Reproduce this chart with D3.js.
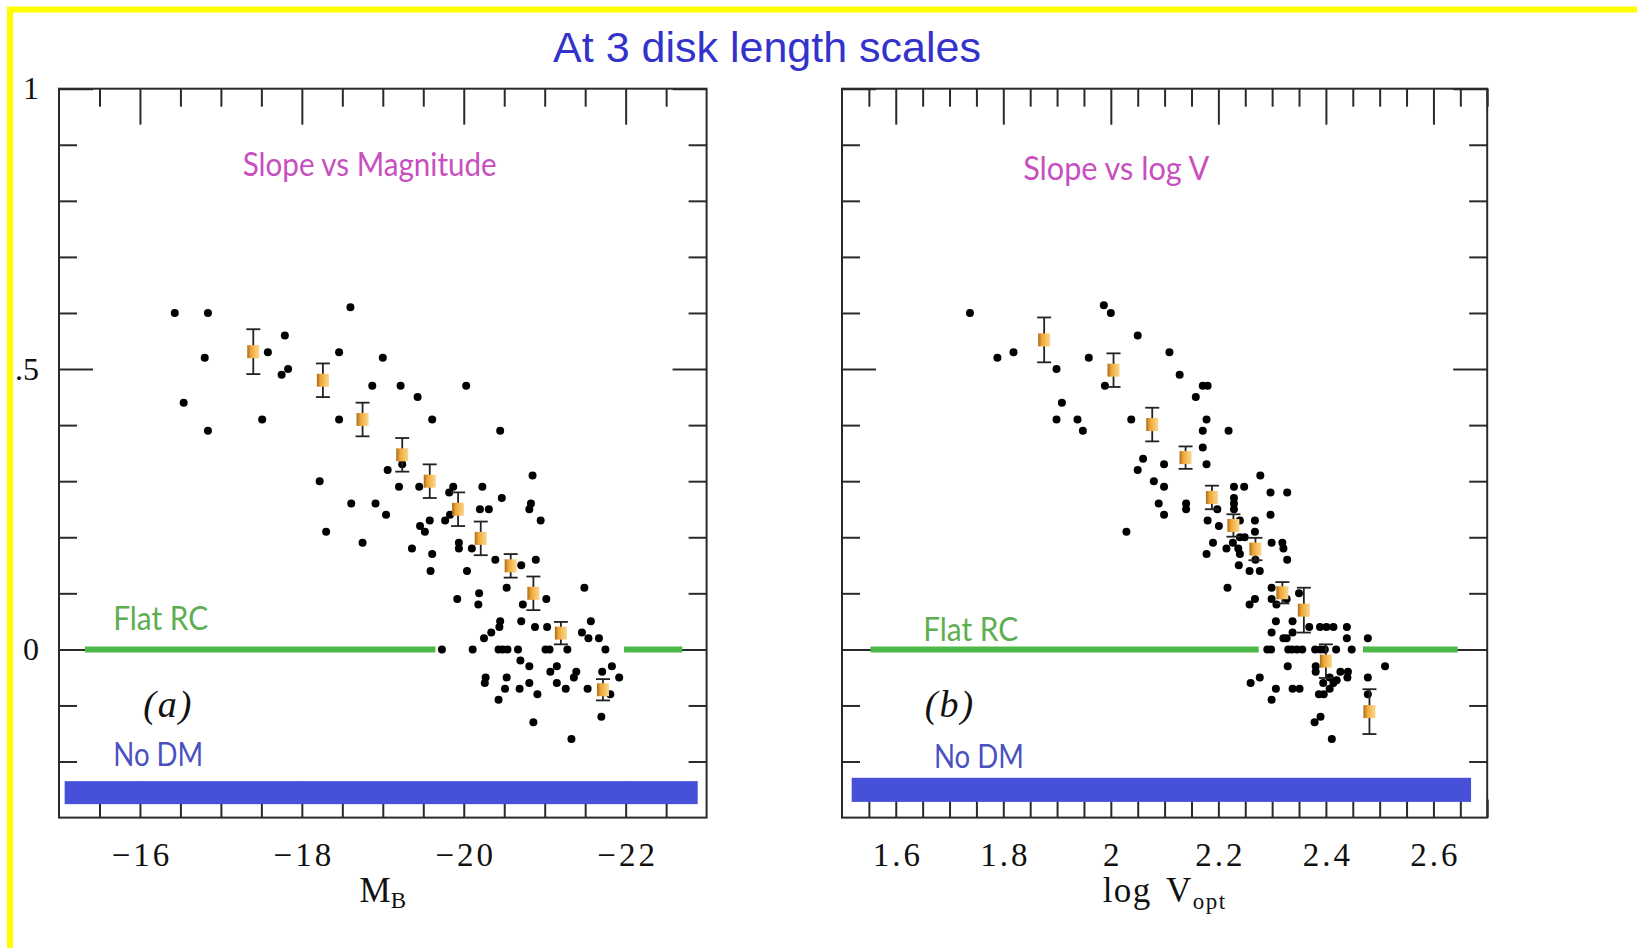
<!DOCTYPE html>
<html>
<head>
<meta charset="utf-8">
<script src="https://cdn.jsdelivr.net/npm/d3@7"></script>
<style>
body { margin: 0; background: #fff; }
</style>
</head>
<body>
<div id="chart"></div>
<script>
'use strict';

// panel (a): slope vs absolute magnitude
let ptsMB = [-16.43, -16.84, -18.60, -16.80, -17.79, -17.58, -17.83, -17.75, -18.46, -19.00,
	-18.87, -19.22, -19.43, -20.03, -16.54, -16.84, -17.51, -18.46, -19.61, -20.45,
	-19.24, -19.06, -18.22, -19.20, -19.45, -19.87, -19.82, -20.23, -20.85, -20.47,
	-20.20, -20.31, -20.83, -20.81, -20.95, -18.61, -18.91, -19.04, -19.58, -19.77,
	-19.83, -19.46, -19.52, -18.30, -18.75, -19.36, -19.94, -19.94, -20.10, -19.61,
	-19.59, -20.04, -20.39, -20.71, -20.89, -19.92, -20.19, -20.18, -20.53, -20.73,
	-21.02, -21.49, -20.45, -20.44, -20.34, -20.25, -20.71, -20.88, -21.03, -21.57,
	-21.46, -21.54, -21.67, -19.73, -20.11, -20.43, -20.48, -20.54, -20.67, -21.01,
	-21.06, -21.28, -21.75, -20.70, -20.81, -21.07, -21.15, -21.39, -21.36, -21.83,
	-21.92, -21.71, -20.27, -20.26, -20.53, -20.51, -20.69, -20.81, -20.91, -21.15,
	-21.26, -21.53, -21.81, -20.43, -20.86, -21.70, -21.33];
let ptsSlopeA = [0.60, 0.60, 0.61, 0.52, 0.56, 0.53, 0.50, 0.49, 0.53, 0.52,
	0.47, 0.47, 0.45, 0.47, 0.44, 0.39, 0.41, 0.41, 0.41, 0.39,
	0.33, 0.32, 0.30, 0.29, 0.29, 0.29, 0.28, 0.29, 0.31, 0.27,
	0.25, 0.25, 0.26, 0.25, 0.23, 0.26, 0.26, 0.24, 0.23, 0.23,
	0.24, 0.22, 0.21, 0.21, 0.19, 0.18, 0.19, 0.18, 0.18, 0.17,
	0.14, 0.14, 0.16, 0.15, 0.16, 0.09, 0.10, 0.08, 0.11, 0.08,
	0.09, 0.11, 0.05, 0.04, 0.03, 0.02, 0.05, 0.04, 0.04, 0.05,
	0.03, 0.02, 0.02, 0, 0, 0, 0, 0, 0, 0,
	0, 0, 0, -0.02, -0.03, -0.04, -0.03, -0.04, -0.05, -0.03,
	-0.05, -0.04, -0.05, -0.06, -0.05, -0.07, -0.07, -0.06, -0.08, -0.06,
	-0.07, -0.07, -0.08, -0.09, -0.13, -0.12, -0.16];
let binMB = [-17.40, -18.26, -18.75, -19.24, -19.58, -19.93, -20.21, -20.58, -20.86, -21.20, -21.72];
let binSlopeA = [0.531, 0.480, 0.410, 0.347, 0.300, 0.250, 0.198, 0.149, 0.100, 0.029, -0.072];
let binErrA = [0.040, 0.030, 0.030, 0.030, 0.030, 0.030, 0.030, 0.021, 0.030, 0.020, 0.019];

// panel (b): slope vs log V_opt
let ptsLogV = [1.738, 1.987, 2.000, 2.050, 1.789, 1.819, 1.899, 1.959, 2.109, 1.989,
	2.128, 2.171, 2.180, 2.158, 1.909, 1.899, 1.938, 1.948, 2.038, 2.178,
	2.171, 2.219, 2.171, 2.178, 2.060, 2.099, 2.050, 2.080, 2.099, 2.089,
	2.099, 2.140, 2.140, 2.029, 2.278, 2.229, 2.248, 2.229, 2.229, 2.229,
	2.297, 2.328, 2.297, 2.198, 2.180, 2.201, 2.240, 2.268, 2.268, 2.190,
	2.240, 2.249, 2.227, 2.258, 2.277, 2.238, 2.269, 2.328, 2.299, 2.319,
	2.321, 2.215, 2.237, 2.240, 2.178, 2.217, 2.268, 2.258, 2.299, 2.299,
	2.308, 2.327, 2.350, 2.307, 2.338, 2.299, 2.338, 2.321, 2.327, 2.369,
	2.389, 2.401, 2.414, 2.439, 2.439, 2.478, 2.291, 2.298, 2.330, 2.337,
	2.346, 2.356, 2.380, 2.390, 2.398, 2.419, 2.448, 2.329, 2.381, 2.381,
	2.427, 2.441, 2.440, 2.510, 2.478, 2.478, 2.277, 2.260, 2.307, 2.338,
	2.351, 2.299, 2.395, 2.407, 2.414, 2.407, 2.420, 2.387, 2.396, 2.390,
	2.379, 2.411];
let ptsSlopeB = [0.60, 0.614, 0.60, 0.56, 0.52, 0.53, 0.50, 0.52, 0.53, 0.47,
	0.49, 0.47, 0.47, 0.45, 0.44, 0.41, 0.41, 0.39, 0.41, 0.41,
	0.39, 0.39, 0.36, 0.33, 0.34, 0.33, 0.32, 0.30, 0.29, 0.26,
	0.24, 0.26, 0.25, 0.21, 0.31, 0.29, 0.29, 0.27, 0.26, 0.25,
	0.28, 0.28, 0.24, 0.25, 0.23, 0.22, 0.23, 0.23, 0.21, 0.19,
	0.20, 0.20, 0.19, 0.14, 0.14, 0.15, 0.16, 0.16, 0.19, 0.19,
	0.18, 0.18, 0.18, 0.17, 0.17, 0.11, 0.09, 0.08, 0.11, 0.09,
	0.08, 0.09, 0.10, 0.05, 0.05, 0.03, 0.03, 0.02, 0.02, 0.04,
	0.04, 0.04, 0.04, 0.04, 0.02, 0.02, 0, 0, 0, 0,
	0, 0, 0, 0, 0, 0, 0, -0.03, -0.03, -0.04,
	-0.04, -0.04, -0.05, -0.03, -0.05, -0.08, -0.05, -0.06, -0.07, -0.07,
	-0.07, -0.09, -0.06, -0.05, -0.06, -0.07, -0.055, -0.08, -0.08, -0.12,
	-0.13, -0.16];
let binLogV = [1.876, 2.005, 2.077, 2.139, 2.188, 2.228, 2.269, 2.319, 2.359, 2.400, 2.481];
let binSlopeB = [0.552, 0.498, 0.401, 0.342, 0.271, 0.221, 0.179, 0.101, 0.070, -0.021, -0.111];
let binErrB = [0.040, 0.030, 0.030, 0.020, 0.021, 0.020, 0.020, 0.019, 0.040, 0.030, 0.040];

// reference levels: flat rotation curve (slope 0) and no dark matter band
let flatA = [[-15.32, -19.65], [-21.98, -22.70]];
let flatB = [[1.553, 2.275], [2.469, 2.645]];
let noDmA = [-15.07, -22.89, -0.235, -0.276];
let noDmB = [1.518, 2.670, -0.229, -0.272];

// axis ticks
let majorA = [-16, -18, -20, -22];
let majorB = [1.6, 1.8, 2, 2.2, 2.4, 2.6];
let yMajor = [1, 0.5, 0];
let yMinor = [0.9, 0.8, 0.7, 0.6, 0.4, 0.3, 0.2, 0.1, -0.1, -0.2];

let svg = d3.select('#chart').append('svg')
	.attr('width', 1637)
	.attr('height', 948);

let defs = svg.append('defs');
let grad = defs.append('linearGradient').attr('id', 'binfill');
grad.append('stop').attr('offset', '0%').attr('stop-color', '#a86a18');
grad.append('stop').attr('offset', '30%').attr('stop-color', '#eea535');
grad.append('stop').attr('offset', '70%').attr('stop-color', '#f6c468');
grad.append('stop').attr('offset', '100%').attr('stop-color', '#f9d690');

// slide frame (yellow, cropped at right/bottom)
svg.append('rect')
	.attr('x', 10).attr('y', 9.5)
	.attr('width', 1700).attr('height', 1000)
	.attr('fill', 'none')
	.attr('stroke', '#ffff00')
	.attr('stroke-width', 6);

svg.append('text')
	.attr('x', 767).attr('y', 62)
	.attr('text-anchor', 'middle')
	.attr('font-family', 'Liberation Sans, Arial, sans-serif')
	.attr('font-size', 43)
	.attr('fill', '#3333cc')
	.text('At 3 disk length scales');

let yTop = 88.7, yBot = 817.6;

function tickSet(g, axisFn, scale, vals, size, transform) {
	g.append('g')
		.attr('transform', transform)
		.call(axisFn(scale).tickValues(vals).tickSize(size).tickFormat(''))
		.call(s => s.select('.domain').remove())
		.selectAll('line')
		.attr('stroke', '#2a2a2a')
		.attr('stroke-width', 2);
}

function drawPanel(p) {
	let x = d3.scaleLinear().domain(p.domain).range([p.left, p.right]);
	let y = d3.scaleLinear().domain([-0.3, 1]).range([yBot, yTop]);
	let g = svg.append('g');

	let minors = d3.range(p.domain[0], p.domain[1], p.step)
		.filter(v => !p.majors.some(m => Math.abs(m - v) < 1e-6) && Math.abs(v - p.domain[0]) > 1e-6);

	tickSet(g, d3.axisBottom, x, minors, 18, `translate(0,${yTop})`);
	tickSet(g, d3.axisBottom, x, p.majors, 36, `translate(0,${yTop})`);
	tickSet(g, d3.axisTop, x, minors, 18, `translate(0,${yBot})`);
	tickSet(g, d3.axisTop, x, p.majors, 36, `translate(0,${yBot})`);
	tickSet(g, d3.axisRight, y, yMinor, 18, `translate(${p.left},0)`);
	tickSet(g, d3.axisRight, y, yMajor, 34, `translate(${p.left},0)`);
	tickSet(g, d3.axisLeft, y, yMinor, 18, `translate(${p.right},0)`);
	tickSet(g, d3.axisLeft, y, yMajor, 34, `translate(${p.right},0)`);

	g.append('rect')
		.attr('x', p.left).attr('y', yTop)
		.attr('width', p.right - p.left).attr('height', yBot - yTop)
		.attr('fill', 'none')
		.attr('stroke', '#2a2a2a')
		.attr('stroke-width', 2);

	// x tick labels
	let xl = g.append('g')
		.attr('transform', `translate(0,${yBot})`)
		.call(d3.axisBottom(x).tickValues(p.majors).tickSize(0).tickFormat(d3.format('~g')))
		.call(s => s.select('.domain').remove());
	xl.attr('font-family', 'Liberation Serif, serif').attr('font-size', 33);
	xl.selectAll('text')
		.attr('y', 48).attr('dy', null).attr('dx', 1.5)
		.attr('fill', '#111')
		.style('letter-spacing', '3px');

	if (p.yLabels) {
		let yl = g.append('g')
			.attr('transform', `translate(${p.left},0)`)
			.call(d3.axisLeft(y).tickValues(yMajor).tickSize(0).tickPadding(20)
				.tickFormat(d => d === 0.5 ? '.5' : String(d)))
			.call(s => s.select('.domain').remove());
		yl.attr('font-family', 'Liberation Serif, serif').attr('font-size', 32);
		yl.selectAll('text').attr('fill', '#111');
	}

	// flat RC line
	g.selectAll('line.flat')
		.data(p.flat)
		.join('line')
		.classed('flat', true)
		.attr('x1', d => x(d[0])).attr('x2', d => x(d[1]))
		.attr('y1', y(0)).attr('y2', y(0))
		.attr('stroke', '#4db848')
		.attr('stroke-width', 6);

	// no DM band
	g.append('rect')
		.attr('x', Math.min(x(p.noDm[0]), x(p.noDm[1])))
		.attr('y', y(p.noDm[2]))
		.attr('width', Math.abs(x(p.noDm[1]) - x(p.noDm[0])))
		.attr('height', y(p.noDm[3]) - y(p.noDm[2]))
		.attr('fill', '#4650d8');

	// galaxies
	g.selectAll('circle.gal')
		.data(d3.zip(p.px, p.py))
		.join('circle')
		.classed('gal', true)
		.attr('cx', d => x(d[0]))
		.attr('cy', d => y(d[1]))
		.attr('r', 4)
		.attr('fill', '#000');

	// binned means with error bars
	let bins = d3.zip(p.bx, p.by, p.be);
	let eb = g.selectAll('g.bin')
		.data(bins)
		.join('g')
		.classed('bin', true)
		.attr('stroke', '#222')
		.attr('stroke-width', 1.8);
	eb.append('line')
		.attr('x1', d => x(d[0])).attr('x2', d => x(d[0]))
		.attr('y1', d => y(d[1] + d[2])).attr('y2', d => y(d[1] - d[2]));
	eb.append('line')
		.attr('x1', d => x(d[0]) - 7).attr('x2', d => x(d[0]) + 7)
		.attr('y1', d => y(d[1] + d[2])).attr('y2', d => y(d[1] + d[2]));
	eb.append('line')
		.attr('x1', d => x(d[0]) - 7).attr('x2', d => x(d[0]) + 7)
		.attr('y1', d => y(d[1] - d[2])).attr('y2', d => y(d[1] - d[2]));
	g.selectAll('rect.binbox')
		.data(bins)
		.join('rect')
		.classed('binbox', true)
		.attr('x', d => x(d[0]) - 6)
		.attr('y', d => y(d[1]) - 6.5)
		.attr('width', 12).attr('height', 13)
		.attr('fill', 'url(#binfill)');

	// annotations
	let lab = (t, at, color, len) => g.append('text')
		.attr('x', x(at[0])).attr('y', y(at[1]))
		.attr('font-family', 'Lato, Open Sans, sans-serif')
		.attr('font-size', 32)
		.attr('fill', color)
		.attr('textLength', len)
		.attr('lengthAdjust', 'spacingAndGlyphs')
		.text(t);
	lab(p.title, p.titleAt, '#c84fc0', p.titleLen);
	lab('Flat RC', p.flatAt, '#5dae50', 95);
	lab('No DM', p.noDmAt, '#4a52c0', 90);

	g.append('text')
		.attr('x', x(p.tagAt[0])).attr('y', y(p.tagAt[1]))
		.attr('font-family', 'Liberation Serif, serif')
		.attr('font-style', 'italic')
		.attr('font-size', 38)
		.style('letter-spacing', '2px')
		.attr('fill', '#111')
		.text(p.tag);

	// axis title
	let at = g.append('text')
		.attr('x', (p.left + p.right) / 2).attr('y', 902)
		.attr('text-anchor', 'middle')
		.attr('font-family', 'Liberation Serif, serif')
		.attr('font-size', 35)
		.attr('fill', '#111');
	p.axisTitle(at);
}

drawPanel({
	domain: [-15, -23], left: 59, right: 706.6, step: -0.5,
	majors: majorA, yLabels: true,
	px: ptsMB, py: ptsSlopeA, bx: binMB, by: binSlopeA, be: binErrA,
	flat: flatA, noDm: noDmA,
	title: 'Slope vs Magnitude', titleAt: [-17.27, 0.844], titleLen: 254,
	flatAt: [-15.67, 0.035], noDmAt: [-15.67, -0.208],
	tag: '(a)', tagAt: [-16.04, -0.12],
	axisTitle: t => {
		t.append('tspan').text('M');
		t.append('tspan').attr('dy', 6).attr('font-size', 23).text('B');
	}
});

drawPanel({
	domain: [1.5, 2.7], left: 842, right: 1487.2, step: 0.05,
	majors: majorB, yLabels: false,
	px: ptsLogV, py: ptsSlopeB, bx: binLogV, by: binSlopeB, be: binErrB,
	flat: flatB, noDm: noDmB,
	title: 'Slope vs log V', titleAt: [1.837, 0.838], titleLen: 186,
	flatAt: [1.651, 0.015], noDmAt: [1.671, -0.212],
	tag: '(b)', tagAt: [1.654, -0.12],
	axisTitle: t => {
		t.style('letter-spacing', '1.5px');
		t.append('tspan').text('log');
		t.append('tspan').attr('dx', 14).text('V');
		t.append('tspan').attr('dy', 7).attr('font-size', 23).text('opt');
	}
});
</script>
</body>
</html>
